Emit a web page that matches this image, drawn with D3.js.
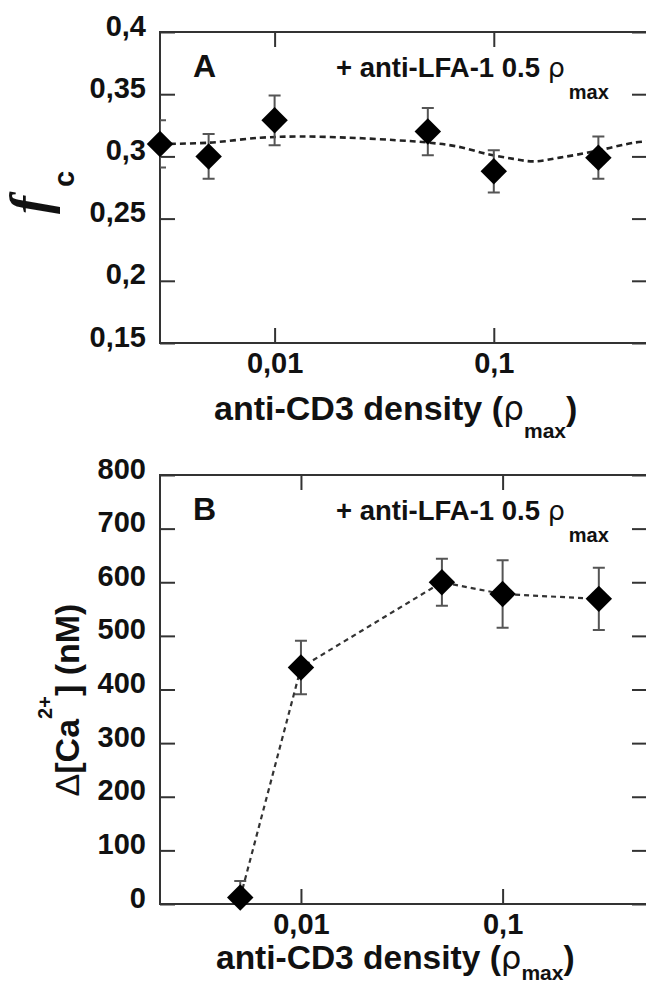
<!DOCTYPE html>
<html>
<head>
<meta charset="utf-8">
<script src="https://d3js.org/d3.v7.min.js"></script>
<style>
  body { margin: 0; background: #fff; }
  svg { display: block; font-family: "Liberation Sans", Arial, sans-serif; font-weight: bold; }
  .tick text { font-family: "Liberation Sans", Arial, sans-serif; font-size: 29px; font-weight: bold; fill: #111; }
  .tick line { stroke: #333; stroke-width: 2; }
  .frame { fill: none; stroke: #333; stroke-width: 2; }
  .err { stroke: #555; stroke-width: 2; fill: none; }
  .fit { fill: none; stroke: #222; stroke-width: 2.6; stroke-dasharray: 6,4; }
  .fitB { fill: none; stroke: #333; stroke-width: 2.2; stroke-dasharray: 5,4; }
</style>
</head>
<body>
<script>
// panel A : fraction of contacting cells
var aDensity = [0.003, 0.005, 0.01, 0.05, 0.1, 0.3];
var aFc      = [0.310, 0.300, 0.329, 0.320, 0.288, 0.299];
var aErr     = [0.019, 0.018, 0.020, 0.019, 0.017, 0.017];
// dashed guide curve drawn over panel A
var aFitX = [0.003, 0.005, 0.0086, 0.013, 0.022, 0.036, 0.051, 0.068, 0.093, 0.123, 0.152, 0.2, 0.286, 0.435, 0.5];
var aFitY = [0.310, 0.311, 0.315, 0.316, 0.315, 0.313, 0.311, 0.308, 0.302, 0.298, 0.296, 0.299, 0.304, 0.311, 0.312];
var aTicksY = [0.15, 0.2, 0.25, 0.3, 0.35, 0.4];

// panel B : calcium rise
var bDensity = [0.005, 0.01, 0.05, 0.1, 0.3];
var bCa      = [12, 441, 600, 578, 569];
var bErr     = [31, 50, 44, 63, 58];
var bTicksY = [0, 100, 200, 300, 400, 500, 600, 700, 800];

var xTicks = [0.01, 0.1];

var width = 646, height = 986;
var left = 160, right = 647;

var svg = d3.select("body").append("svg")
  .attr("width", width)
  .attr("height", height);

var comma = function(d) { return String(d).replace(".", ","); };

function panel(top, bottom, xDomain, yDomain, yTicks, id) {
  var x = d3.scaleLog().domain(xDomain).range([left, right]);
  var y = d3.scaleLinear().domain(yDomain).range([bottom, top]);
  var g = svg.append("g");

  svg.append("clipPath").attr("id", id)
    .append("rect").attr("x", left).attr("y", top)
    .attr("width", right - left).attr("height", bottom - top);

  g.append("g").attr("transform", "translate(" + left + ",0)")
    .call(d3.axisLeft(y).tickValues(yTicks).tickSize(-15).tickPadding(14).tickFormat(comma))
    .call(function(a) { a.select(".domain").remove(); a.selectAll("text").attr("dy", 3); });
  g.append("g").attr("transform", "translate(" + right + ",0)")
    .call(d3.axisRight(y).tickValues(yTicks).tickSize(-15).tickFormat(""))
    .call(function(a) { a.select(".domain").remove(); });
  g.append("g").attr("transform", "translate(0," + bottom + ")")
    .call(d3.axisBottom(x).tickValues(xTicks).tickSize(-15).tickPadding(9).tickFormat(comma))
    .call(function(a) { a.select(".domain").remove(); });
  g.append("g").attr("transform", "translate(0," + top + ")")
    .call(d3.axisTop(x).tickValues(xTicks).tickSize(-15).tickFormat(""))
    .call(function(a) { a.select(".domain").remove(); });

  g.append("rect").attr("class", "frame")
    .attr("x", left).attr("y", top)
    .attr("width", right - left).attr("height", bottom - top);

  return { x: x, y: y, g: g, id: id };
}

function points(p, xs, ys, errs) {
  var idx = d3.range(xs.length);
  var eb = p.g.append("g").attr("clip-path", "url(#" + p.id + ")");
  idx.forEach(function(i) {
    var cx = p.x(xs[i]), y0 = p.y(ys[i] - errs[i]), y1 = p.y(ys[i] + errs[i]);
    eb.append("path").attr("class", "err")
      .attr("d", "M" + cx + "," + y0 + "V" + y1 +
                 "M" + (cx - 6) + "," + y0 + "H" + (cx + 6) +
                 "M" + (cx - 6) + "," + y1 + "H" + (cx + 6));
  });
  p.g.append("g").selectAll("path")
    .data(idx)
    .enter()
    .append("path")
    .attr("d", d3.symbol().type(d3.symbolSquare).size(350))
    .attr("transform", function(i) { return "translate(" + p.x(xs[i]) + "," + p.y(ys[i]) + ") rotate(45)"; })
    .attr("fill", "#000");
}

function xTitle(tx, ty, size, sub) {
  var t = svg.append("text").attr("x", tx).attr("y", ty).attr("font-size", size).attr("fill", "#111");
  t.append("tspan").text("anti-CD3 density (");
  t.append("tspan").attr("font-weight", "normal").attr("font-family", "DejaVu Sans").attr("font-size", size - 1).text("ρ");
  t.append("tspan").attr("font-size", 21).attr("dy", sub).text("max");
  t.append("tspan").attr("dy", -sub).text(")");
}

function note(letter, ty) {
  svg.append("text").attr("x", 193).attr("y", ty).attr("font-size", 32).attr("fill", "#111").text(letter);
  var t = svg.append("text").attr("x", 336).attr("y", ty).attr("font-size", 27.5).attr("fill", "#111");
  t.append("tspan").text("+ anti-LFA-1 0.5 ");
  t.append("tspan").attr("font-weight", "normal").attr("font-family", "DejaVu Sans").attr("font-size", 27).text("ρ");
  t.append("tspan").attr("font-size", 20).attr("dx", 4).attr("dy", 22).text("max");
}

// ---- panel A
var pa = panel(32, 343, [0.003, 0.5], [0.15, 0.4], aTicksY, "clipA");
pa.g.append("path")
  .attr("class", "fit")
  .attr("d", d3.line()
    .x(function(i) { return pa.x(aFitX[i]); })
    .y(function(i) { return pa.y(aFitY[i]); })
    .curve(d3.curveCatmullRom)(d3.range(aFitX.length)));
points(pa, aDensity, aFc, aErr);
note("A", 77);
xTitle(214, 420, 34, 18);

var fa = svg.append("g").attr("transform", "translate(48,214) rotate(-90)");
fa.append("text").attr("font-family", "Liberation Serif").attr("font-style", "italic")
  .attr("font-size", 54).attr("fill", "#111").text("f");
fa.append("text").attr("x", 27).attr("y", 26).attr("font-size", 29).attr("fill", "#111").text("c");

// ---- panel B
var pb = panel(475, 904, [0.002, 0.52], [0, 800], bTicksY, "clipB");
pb.g.append("path")
  .attr("class", "fitB")
  .attr("d", d3.line()
    .x(function(i) { return pb.x(bDensity[i]); })
    .y(function(i) { return pb.y(bCa[i]); })(d3.range(bDensity.length)));
points(pb, bDensity, bCa, bErr);
note("B", 520);
xTitle(216, 969, 33.5, 11);

var fb = svg.append("text").attr("transform", "translate(79,700) rotate(-90)")
  .attr("text-anchor", "middle").attr("font-size", 34).attr("fill", "#111");
fb.append("tspan").attr("font-weight", "normal").text("Δ");
fb.append("tspan").text("[Ca");
fb.append("tspan").attr("font-size", 20).attr("dy", -27).text("2+");
fb.append("tspan").attr("dy", 27).text("] (nM)");
</script>
</body>
</html>
